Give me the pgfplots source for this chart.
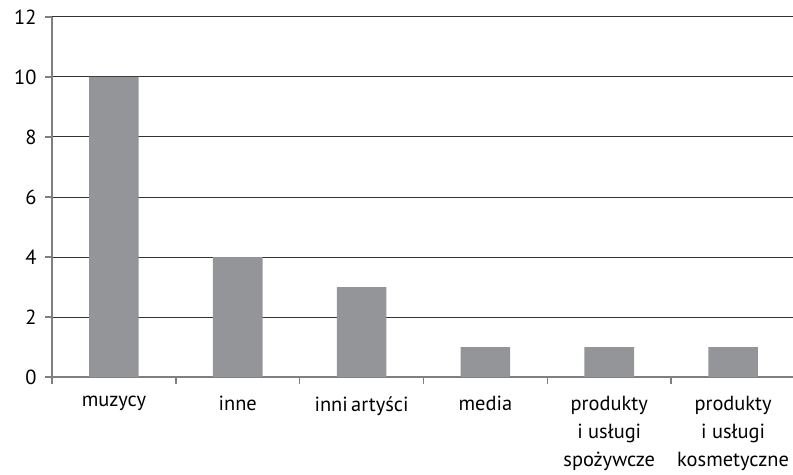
\documentclass[border=0pt]{standalone}
\usepackage{pgfplots}
\pgfplotsset{compat=1.18}
\usepackage{fontspec}
\setmainfont{PT Sans}
\usetikzlibrary{calc}
\definecolor{bargray}{HTML}{939598}
\definecolor{axgray}{HTML}{7F7F7F}
\definecolor{gridc}{HTML}{333333}
\begin{document}
\begin{tikzpicture}
\begin{axis}[
  name=ax,
  scale only axis,
  width=743bp, height=360bp,
  xmin=-0.5, xmax=5.5,
  ymin=0, ymax=12,
  ytick={0,2,...,12},
  xtick={0,...,5},
  xticklabels={muzycy,inne,{inni\,artyści},media,{produkty\\i usługi\\spożywcze},{produkty\\i usługi\\kosmetyczne}},
  minor xtick={-0.5,0.5,...,5.5},
  axis lines*=left,
  axis line style={draw=axgray, line width=1.4bp},
  ymajorgrids,
  major grid style={draw=gridc, line width=1bp},
  tick align=outside,
  major tick length=7bp,
  minor tick length=7bp,
  xtick style={draw=none},
  minor x tick style={draw=axgray, line width=1.4bp},
  ytick style={draw=axgray, line width=1.4bp},
  every tick label/.append style={font=\fontsize{20.5}{28}\selectfont},
  xticklabel style={align=center, yshift=-9bp},
  yticklabel style={xshift=-5bp},
  /pgf/number format/assume math mode=true,
  clip=false,
]
\addplot[ybar, bar width=0.4, fill=bargray, draw=none] coordinates {
  (0,10) (1,4) (2,3) (3,1) (4,1) (5,1)
};
\end{axis}
\pgfresetboundingbox
\path[use as bounding box] ($(ax.south west)+(-52bp,-97bp)$) rectangle ($(ax.north east)+(-2bp,17bp)$);
\end{tikzpicture}
\end{document}
